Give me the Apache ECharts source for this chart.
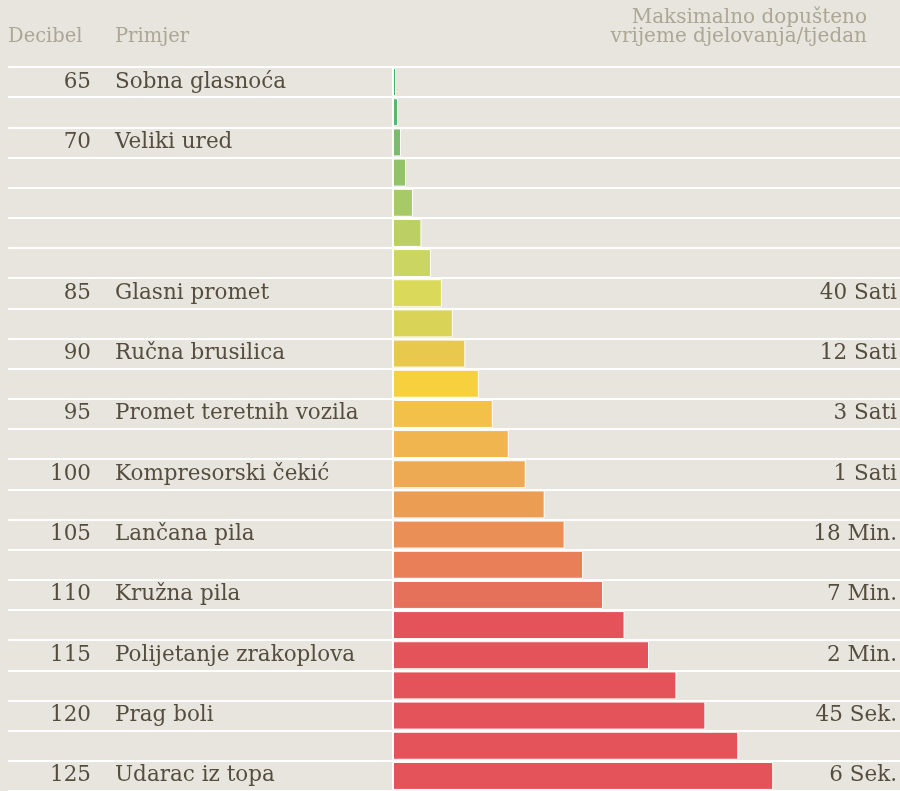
<!DOCTYPE html>
<html><head><meta charset="utf-8">
<script src="https://cdn.jsdelivr.net/npm/echarts@6/dist/echarts.min.js"></script>
<style>html,body{margin:0;padding:0;background:#e8e5df}#c{width:900px;height:791px}</style>
</head><body><div id="c"></div>
<script>
const rows = ['r0','r1','r2','r3','r4','r5','r6','r7','r8','r9','r10','r11','r12','r13','r14','r15','r16','r17','r18','r19','r20','r21','r22','r23'];
const decibels = ['65','','70','','','','','85','','90','','95','','100','','105','','110','','115','','120','','125'];
const examples = ['Sobna glasnoća','','Veliki ured','','','','','Glasni promet','','Ručna brusilica','','Promet teretnih vozila','','Kompresorski čekić','','Lančana pila','','Kružna pila','','Polijetanje zrakoplova','','Prag boli','','Udarac iz topa'];
const times = ['','','','','','','','40 Sati','','12 Sati','','3 Sati','','1 Sati','','18 Min.','','7 Min.','','2 Min.','','45 Sek.','','6 Sek.'];
const values = [3,5,8,13,20,28.5,38,49,60,72.5,86,100,116,133,152,172,190.5,210.5,232,256.5,284,313,346,381];
const colors = ['#3fae6a','#5bb56e','#78bc6c','#92c36a','#a8c967','#bbcf65','#cbd561','#dad95a','#d9d357','#e8c94e','#f7d13d','#f3c049','#f0b54e','#eeaa52','#ec9d54','#ea8f55','#e87f58','#e6715a','#e4525a','#e4525a','#e4525a','#e4525a','#e4525a','#e4525a'];

const FONT = '"DejaVu Serif",serif';
const TXT = '#554e3f';
const HDR = '#aca694';

const chart = echarts.init(document.getElementById('c'), null, {renderer:'canvas'});
chart.setOption({
  backgroundColor: '#e8e5df',
  animation: false,
  graphic: [
    {type:'text', left: 8, top: 27, style:{text:'Decibel', font:'19.5px '+FONT, fill:HDR}},
    {type:'text', left: 115, top: 27, style:{text:'Primjer', font:'19.5px '+FONT, fill:HDR}},
    {type:'text', right: 33, top: 8, style:{text:'Maksimalno dopušteno', font:'20px '+FONT, fill:HDR, align:'right'}},
    {type:'text', right: 33, top: 27, style:{text:'vrijeme djelovanja/tjedan', font:'20px '+FONT, fill:HDR, align:'right'}}
  ],
  grid: [
    {left: 8, right: 0, top: 67, bottom: 0},
    {left: 393, right: 0, top: 67, bottom: 0}
  ],
  xAxis: [
    {gridIndex:0, type:'value', min:0, max:100, show:false},
    {gridIndex:1, type:'value', min:0, max:507, show:false}
  ],
  yAxis: [
    {gridIndex:0, type:'category', inverse:true, data:rows,
     axisLine:{show:false}, axisTick:{show:false}, axisLabel:{show:false},
     splitLine:{show:true, lineStyle:{color:'#ffffff', width:2}}},
    {gridIndex:1, type:'category', inverse:true, data:rows, position:'left',
     axisLine:{show:true, lineStyle:{color:'#ffffff', width:2}}, axisTick:{show:false},
     splitLine:{show:false},
     axisLabel:{margin:302, formatter:(v,i)=>decibels[i], color:TXT, fontFamily:FONT, fontSize:21.5, padding:[3,0,0,0]}},
    {gridIndex:1, type:'category', inverse:true, data:rows, position:'left',
     axisLine:{show:false}, axisTick:{show:false}, splitLine:{show:false},
     axisLabel:{margin:278, align:'left', formatter:(v,i)=>examples[i], color:TXT, fontFamily:FONT, fontSize:21.5, padding:[3,0,0,0]}},
    {gridIndex:1, type:'category', inverse:true, data:rows, position:'right',
     axisLine:{show:false}, axisTick:{show:false}, splitLine:{show:false},
     axisLabel:{margin:-2, align:'right', formatter:(v,i)=>times[i], color:TXT, fontFamily:FONT, fontSize:21.5, padding:[3,0,0,0]}}
  ],
  series: [
    {type:'bar', xAxisIndex:1, yAxisIndex:1, barWidth:28,
     data: values.map((v,i)=>({value:v, itemStyle:{color:colors[i]}})),
     itemStyle:{borderColor:'#ffffff', borderWidth:1}}
  ]
});
</script></body></html>
